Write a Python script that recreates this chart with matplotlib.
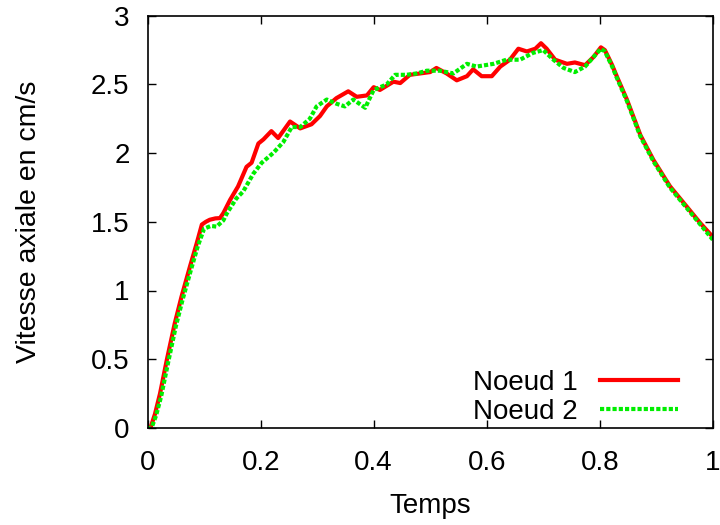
import matplotlib
matplotlib.use("Agg")
import matplotlib.pyplot as plt

# Noeud 1 (red, solid)
t1 = [0.0, 0.005, 0.013, 0.022, 0.034, 0.048, 0.060, 0.075, 0.087, 0.096, 0.103, 0.110, 0.120, 0.128,
      0.134, 0.146, 0.160, 0.175, 0.184, 0.196, 0.205, 0.219, 0.231, 0.252, 0.270,
      0.290, 0.305, 0.317, 0.334, 0.355, 0.370, 0.388, 0.400, 0.411, 0.435, 0.447,
      0.464, 0.482, 0.500, 0.511, 0.529, 0.547, 0.565, 0.576, 0.591, 0.609, 0.624,
      0.641, 0.656, 0.671, 0.686, 0.696, 0.706, 0.721, 0.742, 0.756, 0.774, 0.789,
      0.802, 0.809, 0.815, 0.822, 0.830, 0.848, 0.872, 0.895, 0.924, 0.954, 0.978, 1.0]
v1 = [0.0, 0.0, 0.1, 0.25, 0.495, 0.76, 0.955, 1.175, 1.345, 1.48, 1.50, 1.515, 1.525, 1.527,
      1.563, 1.66, 1.757, 1.90, 1.93, 2.07, 2.10, 2.16, 2.11, 2.23, 2.18,
      2.21, 2.27, 2.34, 2.40, 2.45, 2.41, 2.42, 2.48, 2.46, 2.52, 2.51,
      2.57, 2.58, 2.59, 2.62, 2.58, 2.53, 2.56, 2.61, 2.56, 2.56, 2.63,
      2.68, 2.76, 2.74, 2.76, 2.80, 2.76, 2.68, 2.65, 2.66, 2.64, 2.70,
      2.77, 2.75, 2.70, 2.64, 2.56, 2.39, 2.13, 1.95, 1.76, 1.61, 1.49, 1.39]

# Noeud 2 (green, dotted)
t2 = [0.0, 0.007, 0.015, 0.024, 0.036, 0.050, 0.062, 0.077, 0.089, 0.100, 0.112, 0.122,
      0.134, 0.140, 0.157, 0.169, 0.187, 0.202, 0.222, 0.240, 0.255, 0.270,
      0.287, 0.299, 0.317, 0.334, 0.349, 0.364, 0.385, 0.400, 0.423, 0.438,
      0.458, 0.476, 0.494, 0.517, 0.541, 0.565, 0.582, 0.612, 0.635, 0.659,
      0.682, 0.700, 0.718, 0.736, 0.756, 0.774, 0.789, 0.802, 0.809, 0.815, 0.822, 0.830,
      0.848, 0.872, 0.895, 0.924, 0.954, 0.978, 1.0]
v2 = [0.0, 0.0, 0.09, 0.23, 0.47, 0.74, 0.935, 1.155, 1.325, 1.45, 1.47, 1.465,
      1.51, 1.56, 1.67, 1.72, 1.85, 1.93, 2.00, 2.08, 2.19, 2.19,
      2.25, 2.34, 2.39, 2.36, 2.34, 2.39, 2.33, 2.46, 2.50, 2.57,
      2.57, 2.58, 2.60, 2.60, 2.58, 2.65, 2.63, 2.65, 2.68, 2.68,
      2.73, 2.75, 2.68, 2.62, 2.59, 2.63, 2.70, 2.76, 2.74, 2.69, 2.63, 2.55,
      2.38, 2.12, 1.94, 1.75, 1.60, 1.48, 1.37]

xticks = [0, 0.2, 0.4, 0.6, 0.8, 1]
xticklabels = ["0", "0.2", "0.4", "0.6", "0.8", "1"]
yticks = [0, 0.5, 1, 1.5, 2, 2.5, 3]
yticklabels = ["0", "0.5", "1", "1.5", "2", "2.5", "3"]

plt.rcParams['font.family'] = ['Liberation Sans', 'DejaVu Sans']

fig = plt.figure(figsize=(7.2, 5.25), dpi=100)
ax = fig.add_axes([0.205, 0.185, 0.785, 0.785])

ax.plot(t1, v1, color="#ff0000", lw=3.0, label="Noeud 1", solid_joinstyle="round")
ax.plot(t2, v2, color="#00ee00", lw=3.0, linestyle=(0, (1.0, 0.5)),
        dash_capstyle="butt", label="Noeud 2")

ax.set_xlim(0, 1)
ax.set_ylim(0, 3)
ax.set_xticks(xticks)
ax.set_xticklabels(xticklabels)
ax.set_yticks(yticks)
ax.set_yticklabels(yticklabels)
ax.tick_params(direction="in", length=6, width=1, top=True, right=True,
               labelsize=20)
ax.tick_params(axis="y", pad=13)
ax.tick_params(axis="x", pad=16)
for s in ax.spines.values():
    s.set_linewidth(1.2)

ax.set_xlabel("Temps", fontsize=20, labelpad=12)
ax.set_ylabel("Vitesse axiale en cm/s", fontsize=20.5, labelpad=35)

leg = ax.legend(loc="lower right", frameon=False, markerfirst=False,
                fontsize=20, handlelength=2.8, handletextpad=0.8,
                labelspacing=0.1, borderpad=0.0,
                bbox_to_anchor=(0.963, -0.026))

fig.savefig("out.png", dpi=100)
